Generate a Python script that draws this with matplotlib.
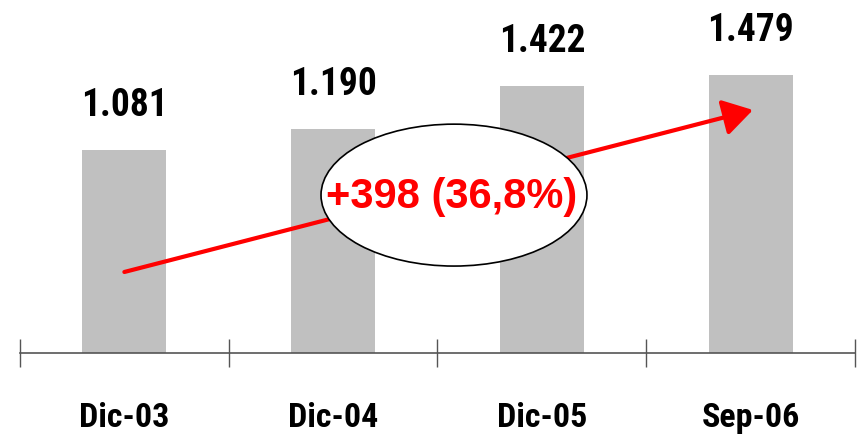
import matplotlib
matplotlib.use("Agg")
import matplotlib.pyplot as plt
from matplotlib.patches import Ellipse, FancyArrowPatch
from matplotlib import font_manager as fm
import matplotlib.transforms as mtransforms

categories = ["Dic-03", "Dic-04", "Dic-05", "Sep-06"]
values = [1.081, 1.190, 1.422, 1.479]
value_labels = ["1.081", "1.190", "1.422", "1.479"]
growth_label = "+398 (36,8%)"


def pick_bold(preferred):
    for name in preferred:
        for f in fm.fontManager.ttflist:
            if f.name == name and f.weight in (700, "bold") and f.style == "normal":
                return fm.FontProperties(fname=f.fname)
    return fm.FontProperties(family="Liberation Sans", weight="bold")


narrow_fp = pick_bold(["Liberation Sans Narrow", "Arial Narrow", "Arimo Narrow",
                       "Roboto Condensed", "Liberation Sans"])

W, H = 862, 442
fig = plt.figure(figsize=(W / 100, H / 100), dpi=100)
ax = fig.add_axes([20 / W, 89 / H, 835 / W, 353 / H])

x = list(range(len(categories)))
ax.bar(x, values, width=0.402, color="#C0C0C0", zorder=1)

ax.set_xlim(-0.5, len(categories) - 0.5)
ax.set_ylim(0, 1.878)

for s in ["top", "left", "right"]:
    ax.spines[s].set_visible(False)
ax.spines["bottom"].set_color("#555555")
ax.spines["bottom"].set_linewidth(1.2)
ax.set_yticks([])
ax.set_xticks([i - 0.5 for i in range(len(categories) + 1)])
ax.set_xticklabels([])
ax.tick_params(axis="x", direction="inout", length=19.5, width=1.0, color="#555555")

for xi, v, lab in zip(x, values, value_labels):
    fp = narrow_fp.copy()
    fp.set_size(27)
    ax.annotate(lab, (xi, v), xytext=(0, 24.5), textcoords="offset points",
                ha="center", va="baseline", fontproperties=fp, color="black")

trans = mtransforms.blended_transform_factory(ax.transData, ax.transAxes)
for xi, c in zip(x, categories):
    fp = narrow_fp.copy()
    fp.set_size(24.5)
    ax.text(xi, -74 / 353, c, transform=trans, ha="center", va="baseline",
            fontproperties=fp, color="black")

# growth arrow
arrow = FancyArrowPatch((x[0], 0.431), (x[-1] + 0.011, 1.293),
                        arrowstyle="-|>,head_length=0.9,head_width=0.55",
                        mutation_scale=20, color="#FF0000", lw=3.0,
                        zorder=2, shrinkA=0, shrinkB=0)
ax.add_patch(arrow)

ell = Ellipse((1.579, 0.840), 1.274, 0.755, facecolor="white",
              edgecolor="black", lw=1.2, zorder=3)
ax.add_patch(ell)
ax.text(1.57, 0.83, growth_label, ha="center", va="center", fontsize=30,
        fontweight="bold", family=["Liberation Sans", "DejaVu Sans"],
        color="#FF0000", zorder=4)

fig.savefig("out.png", dpi=100)
